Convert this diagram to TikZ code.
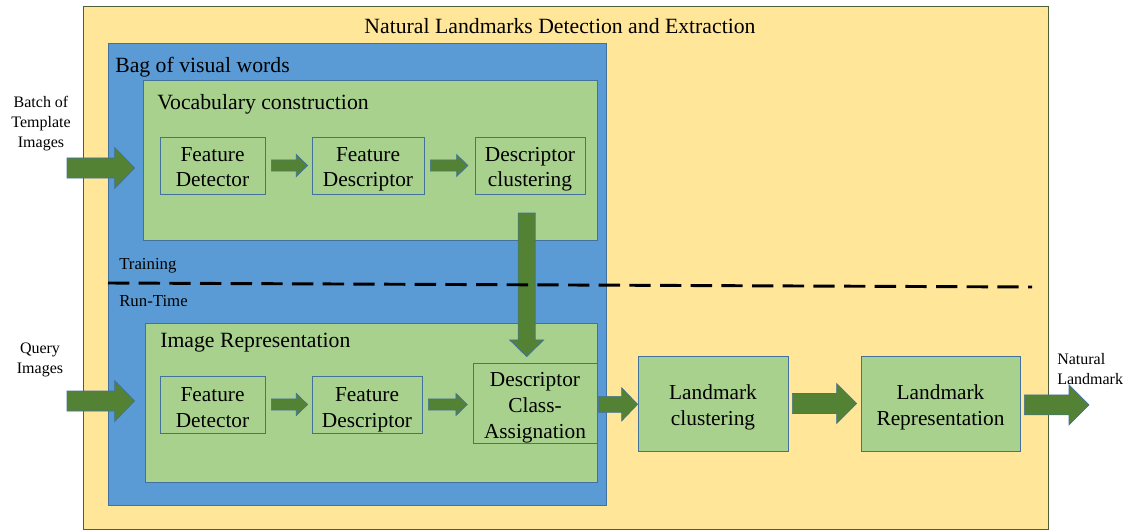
\documentclass[tikz,border=0pt]{standalone}
\usepackage{fontspec}
\setmainfont{Liberation Serif}
\usetikzlibrary{fit,calc}
\definecolor{yel}{HTML}{FFE699}
\definecolor{blu}{HTML}{5B9BD5}
\definecolor{lgreen}{HTML}{A9D18E}
\definecolor{dgreen}{HTML}{548235}
\definecolor{bord}{HTML}{41719C}
\definecolor{outbord}{HTML}{4E5F3A}
\tikzset{
  container/.style={draw=#1, line width=0.6pt, inner sep=0pt},
  rect/.style n args={4}{minimum width={(#3-#1)*0.75pt}, minimum height={(#4-#2)*0.75pt},
     at={({(#1+#3)/2},{(#2+#4)/2})}},
  box/.style={draw=bord, fill=lgreen, line width=0.6pt, inner sep=0pt},
  boxtxt/.style={align=center, inner sep=0pt, font=\fontsize{16}{19.2}\selectfont},
  lbl/.style={font=\fontsize{16.3}{19}\selectfont, inner sep=0pt},
  side/.style={font=\fontsize{12}{15}\selectfont, inner sep=0pt, align=center},
  phase/.style={font=\fontsize{12.6}{14}\selectfont, inner sep=0pt, anchor=west},
  fatarrow/.style={fill=dgreen, draw=bord, line width=0.5pt},
  sep/.style={dash pattern=on 16pt off 7pt, line width=2.2pt, black}
}
% box: name, x1, y1, x2, y2, text, downward text shift
\newcommand\bx[7]{%
  \node[box, rect={#2}{#3}{#4}{#5}, label={[boxtxt, yshift=-#7]center:{\strut #6\strut}}] (#1) {};}
% horizontal block arrow: start, end, shaft half width, head half width, head length (pt)
\newcommand\harr[5]{%
  \draw[fatarrow] let \p1=#1, \p2=#2 in
    (\x1,{\y1+#3}) -- ({\x2-#5},{\y1+#3}) -- ({\x2-#5},{\y1+#4}) -- (\x2,\y1)
    -- ({\x2-#5},{\y1-#4}) -- ({\x2-#5},{\y1-#3}) -- (\x1,{\y1-#3}) -- cycle;}
% vertical (downward) block arrow
\newcommand\varr[5]{%
  \draw[fatarrow] let \p1=#1, \p2=#2 in
    ({\x1-#3},\y1) -- ({\x1-#3},{\y2+#5}) -- ({\x1-#4},{\y2+#5}) -- (\x1,\y2)
    -- ({\x1+#4},{\y2+#5}) -- ({\x1+#3},{\y2+#5}) -- ({\x1+#3},\y1) -- cycle;}
\begin{document}
\begin{tikzpicture}[x=0.75pt,y=-0.75pt]
\useasboundingbox (0,0) rectangle (1134,531);
% containers
\node[container=outbord, fill=yel, fit={(83,6) (1048,529)}] (outer) {};
\node[container=bord, fill=blu, fit={(108,43) (606,505)}] (bow) {};
\node[container=bord, fill=lgreen, fit={(143,80) (597,240)}] (voc) {};
\node[container=bord, fill=lgreen, fit={(145,323) (597,482)}] (imr) {};
% container labels
\node[lbl] (title) at (560,26) {Natural Landmarks Detection and Extraction};
\node[lbl, anchor=west] (bowl) at (115,67) {Bag of visual words};
\node[lbl, anchor=west] (vocl) at (157,104) {Vocabulary construction};
\node[lbl, anchor=west] (imrl) at (160,343) {Image Representation};
\node[phase] (train) at (119,266) {Training};
\node[phase] (run) at (119,301) {Run-Time};
% training row
\bx{fd1}{160}{137}{265}{194}{Feature\\Detector}{2.6pt}
\bx{fde1}{312}{137}{424}{194}{Feature\\Descriptor}{2.6pt}
\bx{dc}{475}{137}{585}{194}{Descriptor\\clustering}{2.6pt}
% run-time row
\bx{fd2}{160}{376}{265}{433}{Feature\\Detector}{3.5pt}
\bx{fde2}{312}{376}{422}{433}{Feature\\Descriptor}{3.5pt}
\bx{cls}{473}{363}{597}{443}{Descriptor\\Class-\\Assignation}{3.3pt}
\bx{lc}{638}{356}{788}{451}{Landmark\\clustering}{2.7pt}
\bx{lr}{861}{356}{1020}{451}{Landmark\\Representation}{2.7pt}
% side texts
\node[side] (batch) at (41,124) {Batch of\\Template\\Images};
\node[side] (query) at (40,360) {Query\\Images};
\coordinate (in1) at (67,168);
\coordinate (in2) at (67,401);
\coordinate (out) at (1089,405);
% arrows
\harr{(in1)}{([xshift=-6pt]voc.west |- in1)}{7.5pt}{15.5pt}{15pt}
\harr{(in2)}{([xshift=-7.5pt]imr.west |- in2)}{7.5pt}{15.5pt}{15pt}
\harr{([xshift=4.5pt]fd1.east)}{([xshift=-3pt]fde1.west)}{4.2pt}{8.3pt}{8.5pt}
\harr{([xshift=4.5pt]fde1.east)}{([xshift=-5pt]dc.west)}{4.2pt}{8.3pt}{8.5pt}
\harr{([xshift=4.5pt]fd2.east)}{([xshift=-3pt]fde2.west)}{4.2pt}{8.3pt}{8.5pt}
\harr{([xshift=4.5pt]fde2.east)}{([xshift=-4pt]cls.west)}{4.2pt}{8.3pt}{8.5pt}
\harr{([xshift=1pt,yshift=-1pt]cls.east)}{(lc.west)}{6pt}{12.5pt}{12pt}
\harr{([xshift=3pt]lc.east)}{([xshift=-3pt]lr.west)}{7.5pt}{15pt}{15pt}
\harr{([xshift=3pt,yshift=-1pt]lr.east)}{(out)}{7.5pt}{15pt}{15pt}
\varr{([xshift=-2.5pt,yshift=-14pt]dc.south)}{([yshift=4.5pt]cls.north)}{6.4pt}{12.8pt}{12.5pt}
% separator
\coordinate (sepa) at (108,283);
\coordinate (sepb) at (1032,287);
\draw[sep] (sepa) -- (sepb);
\node[side, align=left, anchor=west] (natl) at (1057,369) {Natural\\Landmark};
\end{tikzpicture}
\end{document}
